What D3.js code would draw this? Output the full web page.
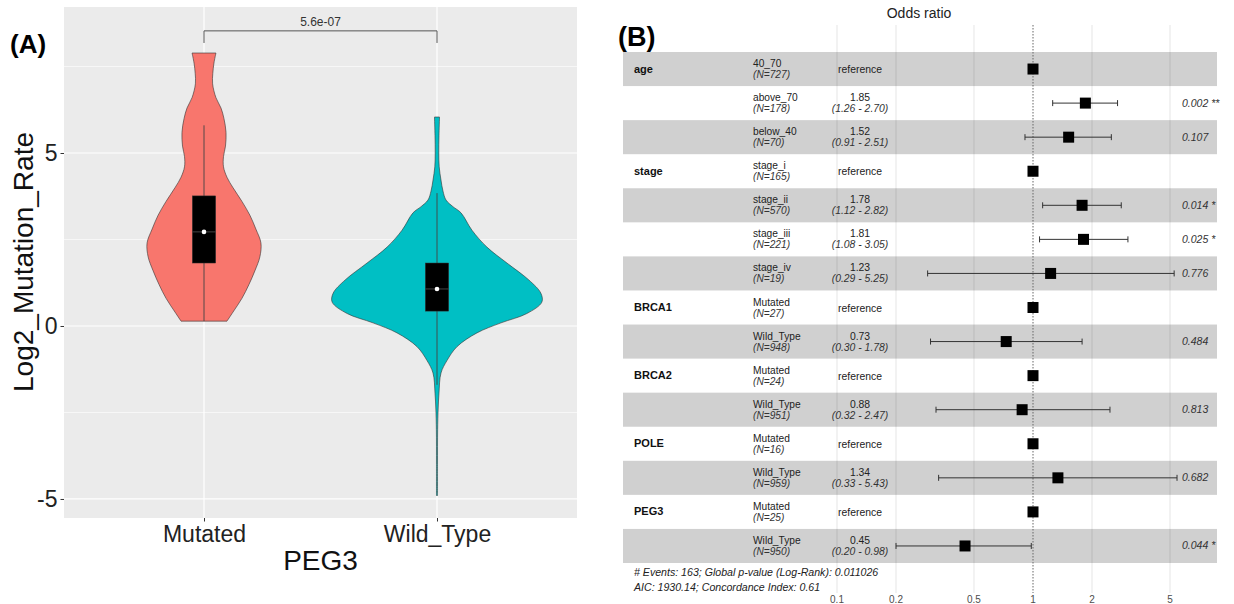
<!DOCTYPE html>
<html>
<head>
<meta charset="utf-8">
<script src="https://cdn.jsdelivr.net/npm/d3@7"></script>
<style>
  body { margin: 0; background: #fff; }
  svg { display: block; font-family: "Liberation Sans", Arial, sans-serif; }
</style>
</head>
<body>
<svg id="fig" width="1234" height="604"></svg>
<script>
// ---------- Panel A: log2 mutation rate by PEG3 status ----------
const groups = ["Mutated", "Wild_Type"];
const groupColors = ["#F8766D", "#00BFC4"];
const yTicks = [-5, 0, 5];
const yMinorTicks = [-2.5, 2.5, 7.5];

// density outlines (value level, relative density; 1 = widest violin)
const mutatedLevels  = [7.89, 7.6, 7.3, 7.0, 6.6, 6.3, 6.0, 5.6, 5.2, 4.9, 4.6, 4.3, 4.0, 3.6, 3.2, 2.8, 2.4, 2.0, 1.6, 1.2, 0.8, 0.4, 0.14];
const mutatedDensity = [0.114, 0.095, 0.084, 0.082, 0.114, 0.162, 0.19, 0.21, 0.205, 0.186, 0.186, 0.219, 0.276, 0.362, 0.438, 0.495, 0.543, 0.533, 0.486, 0.429, 0.362, 0.276, 0.219];
const wildLevels  = [6.04, 5.5, 5.0, 4.6, 4.22, 3.9, 3.64, 3.45, 3.27, 2.77, 2.28, 1.82, 1.33, 0.95, 0.69, 0.36, 0.09, -0.2, -0.6, -1.0, -1.36, -1.94, -2.4, -3.0, -4.0, -4.9];
const wildDensity = [0.024, 0.019, 0.017, 0.021, 0.038, 0.057, 0.086, 0.152, 0.229, 0.333, 0.476, 0.667, 0.876, 0.99, 1.0, 0.857, 0.61, 0.381, 0.19, 0.095, 0.038, 0.019, 0.011, 0.006, 0.005, 0.005];

// box summaries: lower whisker, Q1, median, Q3, upper whisker
const mutatedBox = [0.14, 1.82, 2.72, 3.76, 5.8];
const wildBox    = [-1.7, 0.43, 1.07, 1.82, 3.84];

// comparison bracket
const bracketTop = 8.53;
const bracketTip = 8.18;
const pLabel = "5.6e-07";

// ---------- Panel B: odds ratio forest plot ----------
const variables = ["age", "", "", "stage", "", "", "", "BRCA1", "", "BRCA2", "", "POLE", "", "PEG3", ""];
const levels    = ["40_70", "above_70", "below_40", "stage_i", "stage_ii", "stage_iii", "stage_iv", "Mutated", "Wild_Type", "Mutated", "Wild_Type", "Mutated", "Wild_Type", "Mutated", "Wild_Type"];
const counts    = [727, 178, 70, 165, 570, 221, 19, 27, 948, 24, 951, 16, 959, 25, 950];
const oddsRatio = [1, 1.85, 1.52, 1, 1.78, 1.81, 1.23, 1, 0.73, 1, 0.88, 1, 1.34, 1, 0.45];
const ciLow     = [null, 1.26, 0.91, null, 1.12, 1.08, 0.29, null, 0.30, null, 0.32, null, 0.33, null, 0.20];
const ciHigh    = [null, 2.70, 2.51, null, 2.82, 3.05, 5.25, null, 1.78, null, 2.47, null, 5.43, null, 0.98];
const pValues   = ["", "0.002 **", "0.107", "", "0.014 *", "0.025 *", "0.776", "", "0.484", "", "0.813", "", "0.682", "", "0.044 *"];
const orTicks   = [0.1, 0.2, 0.5, 1, 2, 5];
const footer    = ["# Events: 163; Global p-value (Log-Rank): 0.011026", "AIC: 1930.14; Concordance Index: 0.61"];

const svg = d3.select("#fig");

// ================= Panel A =================
const A = { left: 64, right: 577, top: 7, bottom: 518 };
const x = d3.scalePoint().domain(groups).range([204, 437]);
const unit = x.step();                      // pixels per category unit
const y = d3.scaleLinear().domain([-5.55, 9.22]).range([A.bottom, A.top]);

const gA = svg.append("g");
gA.append("rect").attr("x", A.left).attr("y", A.top)
  .attr("width", A.right - A.left).attr("height", A.bottom - A.top).attr("fill", "#EBEBEB");

gA.selectAll(".ymin").data(yMinorTicks).join("line")
  .attr("x1", A.left).attr("x2", A.right).attr("y1", d => y(d)).attr("y2", d => y(d))
  .attr("stroke", "#fff").attr("stroke-width", 0.6);
gA.selectAll(".ymaj").data(yTicks).join("line")
  .attr("x1", A.left).attr("x2", A.right).attr("y1", d => y(d)).attr("y2", d => y(d))
  .attr("stroke", "#fff").attr("stroke-width", 1.2);
gA.selectAll(".xmaj").data(groups).join("line")
  .attr("x1", d => x(d)).attr("x2", d => x(d)).attr("y1", A.top).attr("y2", A.bottom)
  .attr("stroke", "#fff").attr("stroke-width", 1.2);

// axes
const yAxis = d3.axisLeft(y).tickValues(yTicks).tickSize(3.5).tickPadding(3).tickFormat(d => String(d));
const ya = gA.append("g").attr("transform", `translate(${A.left},0)`).call(yAxis);
ya.select(".domain").remove();
ya.selectAll("line").attr("stroke", "#333");
ya.selectAll("text").attr("font-size", 23).attr("fill", "#222").attr("font-family", "Liberation Sans, Arial, sans-serif");

const xAxis = d3.axisBottom(x).tickSize(3.5).tickPadding(4);
const xa = gA.append("g").attr("transform", `translate(0,${A.bottom})`).call(xAxis);
xa.select(".domain").remove();
xa.selectAll("line").attr("stroke", "#333");
xa.selectAll("text").attr("font-size", 23).attr("fill", "#222").attr("font-family", "Liberation Sans, Arial, sans-serif");

gA.append("text").attr("x", (A.left + A.right) / 2).attr("y", 570).attr("text-anchor", "middle")
  .attr("font-size", 28).attr("fill", "#111").text("PEG3");
gA.append("text").attr("transform", "translate(33,262) rotate(-90)").attr("text-anchor", "middle")
  .attr("font-size", 28).attr("fill", "#111").text("Log2_Mutation_Rate");
gA.append("text").attr("x", 10).attr("y", 53).attr("font-size", 26).attr("font-weight", "bold")
  .attr("fill", "#000").text("(A)");

// violins
const violinData = [
  { g: groups[0], lv: mutatedLevels, dn: mutatedDensity, box: mutatedBox, color: groupColors[0] },
  { g: groups[1], lv: wildLevels, dn: wildDensity, box: wildBox, color: groupColors[1] }
];
const halfWidth = 0.45;   // widest violin spans 0.9 category units
violinData.forEach(v => {
  const pts = v.lv.map((l, i) => ({ l, d: v.dn[i] }));
  const cx = x(v.g);
  const area = d3.area()
    .y(p => y(p.l))
    .x0(p => cx - p.d * halfWidth * unit)
    .x1(p => cx + p.d * halfWidth * unit)
    .curve(d3.curveCatmullRom.alpha(0.5));
  gA.append("path").attr("d", area(pts)).attr("fill", v.color)
    .attr("stroke", "#333").attr("stroke-width", 0.6);
});

// box summaries
const boxW = 0.1 * unit;
violinData.forEach(v => {
  const cx = x(v.g);
  const [lo, q1, med, q3, hi] = v.box;
  gA.append("line").attr("x1", cx).attr("x2", cx).attr("y1", y(hi)).attr("y2", y(lo))
    .attr("stroke", "#444").attr("stroke-width", 0.9);
  gA.append("rect").attr("x", cx - boxW / 2).attr("y", y(q3))
    .attr("width", boxW).attr("height", y(q1) - y(q3))
    .attr("fill", "#000").attr("stroke", "#333").attr("stroke-width", 0.5);
  gA.append("line").attr("x1", cx - boxW / 2).attr("x2", cx + boxW / 2).attr("y1", y(med)).attr("y2", y(med))
    .attr("stroke", "#555").attr("stroke-width", 0.8);
  gA.append("circle").attr("cx", cx).attr("cy", y(med)).attr("r", 2.3).attr("fill", "#fff");
});

// significance bracket
const xL = x(groups[0]), xR = x(groups[1]);
gA.append("path")
  .attr("d", `M${xL},${y(bracketTip)}V${y(bracketTop)}H${xR}V${y(bracketTip)}`)
  .attr("fill", "none").attr("stroke", "#555").attr("stroke-width", 1);
gA.append("text").attr("x", (xL + xR) / 2).attr("y", y(bracketTop) - 5).attr("text-anchor", "middle")
  .attr("font-size", 12).attr("fill", "#333").text(pLabel);

// ================= Panel B =================
const gB = svg.append("g");
const rows = d3.range(levels.length);
const row = d3.scaleBand().domain(rows).range([52, 563]);
const xo = d3.scaleLog().domain([0.1, 5]).range([837, 1170]);
const B = { left: 623, right: 1217 };

gB.append("text").attr("x", 618).attr("y", 46).attr("font-size", 27).attr("font-weight", "bold")
  .attr("fill", "#000").text("(B)");
gB.append("text").attr("x", 919).attr("y", 18).attr("text-anchor", "middle")
  .attr("font-size", 14).attr("fill", "#222").text("Odds ratio");

// striped rows
gB.selectAll(".stripe").data(rows.filter(i => i % 2 === 0)).join("rect")
  .attr("x", B.left).attr("width", B.right - B.left)
  .attr("y", i => row(i)).attr("height", row.bandwidth())
  .attr("fill", "#D0D0D0");

// vertical grid at odds-ratio ticks
gB.selectAll(".vgrid").data(orTicks.filter(t => t !== 1)).join("line")
  .attr("x1", d => xo(d)).attr("x2", d => xo(d)).attr("y1", 25).attr("y2", 593)
  .attr("stroke", "#000").attr("stroke-opacity", 0.1).attr("stroke-width", 1);
gB.append("line").attr("x1", xo(1)).attr("x2", xo(1)).attr("y1", 25).attr("y2", 593)
  .attr("stroke", "#666").attr("stroke-width", 1).attr("stroke-dasharray", "1.5,1.5");

// tick labels
gB.selectAll(".olab").data(orTicks).join("text")
  .attr("x", d => xo(d)).attr("y", 603).attr("text-anchor", "middle")
  .attr("font-size", 10).attr("fill", "#4D4D4D").text(d => String(d));

const cy = i => row(i) + row.bandwidth() / 2;

// variable names
gB.selectAll(".vname").data(rows.filter(i => variables[i])).join("text")
  .attr("x", 634).attr("y", i => cy(i) + 3.5)
  .attr("font-size", 11).attr("font-weight", "bold").attr("fill", "#111").text(i => variables[i]);

// level names with group sizes
gB.selectAll(".lname").data(rows).join("text")
  .attr("x", 753).attr("y", i => cy(i) - 2)
  .attr("font-size", 10.2).attr("fill", "#222").text(i => levels[i]);
gB.selectAll(".nsize").data(rows).join("text")
  .attr("x", 753).attr("y", i => cy(i) + 9)
  .attr("font-size", 10.2).attr("font-style", "italic").attr("fill", "#333").text(i => `(N=${counts[i]})`);

// estimates
const fmt = d3.format(".2f");
gB.selectAll(".est").data(rows).join("text")
  .attr("x", 860).attr("y", i => ciLow[i] === null ? cy(i) + 4 : cy(i) - 2)
  .attr("text-anchor", "middle").attr("font-size", 10.4).attr("fill", "#222")
  .text(i => ciLow[i] === null ? "reference" : fmt(oddsRatio[i]));
gB.selectAll(".ci").data(rows.filter(i => ciLow[i] !== null)).join("text")
  .attr("x", 860).attr("y", i => cy(i) + 9)
  .attr("text-anchor", "middle").attr("font-size", 10.4).attr("font-style", "italic").attr("fill", "#333")
  .text(i => `(${fmt(ciLow[i])} - ${fmt(ciHigh[i])})`);

// confidence intervals
const ciRows = rows.filter(i => ciLow[i] !== null);
gB.selectAll(".ciline").data(ciRows).join("line")
  .attr("x1", i => xo(ciLow[i])).attr("x2", i => xo(ciHigh[i]))
  .attr("y1", cy).attr("y2", cy).attr("stroke", "#333").attr("stroke-width", 1);
gB.selectAll(".capL").data(ciRows).join("line")
  .attr("x1", i => xo(ciLow[i])).attr("x2", i => xo(ciLow[i]))
  .attr("y1", i => cy(i) - 3).attr("y2", i => cy(i) + 3).attr("stroke", "#333").attr("stroke-width", 1);
gB.selectAll(".capR").data(ciRows).join("line")
  .attr("x1", i => xo(ciHigh[i])).attr("x2", i => xo(ciHigh[i]))
  .attr("y1", i => cy(i) - 3).attr("y2", i => cy(i) + 3).attr("stroke", "#333").attr("stroke-width", 1);

// point estimates
const sq = 11;
gB.selectAll(".pt").data(rows).join("rect")
  .attr("x", i => xo(oddsRatio[i]) - sq / 2).attr("y", i => cy(i) - sq / 2)
  .attr("width", sq).attr("height", sq).attr("fill", "#000");

// p-values
gB.selectAll(".pv").data(rows.filter(i => pValues[i])).join("text")
  .attr("x", 1182).attr("y", i => cy(i) + 3.5)
  .attr("font-size", 10.5).attr("font-style", "italic").attr("fill", "#333").text(i => pValues[i]);

// model summary
gB.selectAll(".foot").data(footer).join("text")
  .attr("x", 634).attr("y", (d, i) => 576 + i * 15)
  .attr("font-size", 10.6).attr("font-style", "italic").attr("fill", "#222").text(d => d);
</script>
</body>
</html>
